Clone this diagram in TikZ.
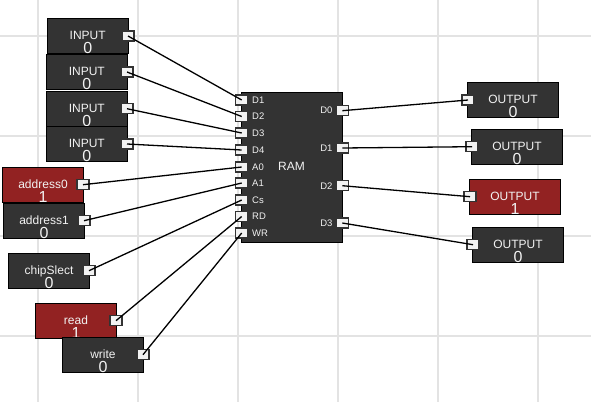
\documentclass[tikz,border=0pt]{standalone}
\usepackage{fontspec}
\setmainfont{Liberation Sans}
\definecolor{gatedark}{HTML}{333333}
\definecolor{gatered}{HTML}{922222}
\definecolor{gridgray}{HTML}{E3E3E3}
\definecolor{textlight}{HTML}{F2F2F2}
\newcommand{\gatetext}[2]{\rule{0pt}{21pt}#1\\{\fontsize{16}{14}\selectfont #2}}

\begin{document}
\begin{tikzpicture}[
                x=1pt, y=-1pt,
                gridline/.style={draw=gridgray, line width=1.8pt},
                gate/.style={rectangle, draw=black, line width=1pt, fill=gatedark, text=textlight, inner xsep=0pt, inner ysep=-4pt, minimum width=81pt, minimum height=35pt, align=center, font=\fontsize{12}{14}\selectfont},
                redgate/.style={gate, fill=gatered},
                outgate/.style={gate, minimum width=91pt},
                port/.style={rectangle, draw=gatedark, line width=1.2pt, fill=white!95!black, inner sep=0pt, minimum width=12pt, minimum height=10pt},
                pinlabel/.style={text=textlight, inner sep=0pt, font=\fontsize{9.5}{9.5}\selectfont},
                wire/.style={draw=black, line width=1.3pt}
            ]
                \useasboundingbox (0,0) rectangle (591,402);
                \foreach \gx in {38,138,238,338,438,538}
                    \draw[gridline] (\gx,0) -- (\gx,402);
                \foreach \gy in {36,136,236,336}
                    \draw[gridline] (0,\gy) -- (591,\gy);

                \node[gate] (input1) at (87.7,36) {\gatetext{INPUT}{0}};
                \node[gate] (input2) at (86.8,71.7) {\gatetext{INPUT}{0}};
                \node[gate] (input3) at (86.8,109) {\gatetext{INPUT}{0}};
                \node[gate] (input4) at (86.8,144) {\gatetext{INPUT}{0}};
                \node[redgate] (address0) at (43,185.2) {\gatetext{address0}{1}};
                \node[gate] (address1) at (44,220.7) {\gatetext{address1}{0}};
                \node[gate] (chipslect) at (49,271) {\gatetext{chipSlect}{0}};
                \node[redgate] (read) at (76,321) {\gatetext{read}{1}};
                \node[gate] (write) at (103,355) {\gatetext{write}{0}};

                \node[gate, minimum width=101pt, minimum height=150pt] (ram) at (291.5,167) {\raisebox{1pt}{RAM}};

                \node[outgate] (output0) at (513,100) {\gatetext{OUTPUT}{0}};
                \node[outgate] (output1) at (517,147) {\gatetext{OUTPUT}{0}};
                \node[outgate, fill=gatered] (output2) at (515,197) {\gatetext{OUTPUT}{1}};
                \node[outgate] (output3) at (518,245) {\gatetext{OUTPUT}{0}};

                % ports of the switches
                \node[port] (input1p) at (128,36) {};
                \node[port] (input2p) at (127,72) {};
                \node[port] (input3p) at (127,108.7) {};
                \node[port] (input4p) at (127,144) {};
                \node[port] (address0p) at (83,184.7) {};
                \node[port] (address1p) at (84,220.7) {};
                \node[port] (chipslectp) at (89,270.7) {};
                \node[port] (readp) at (116,320.7) {};
                \node[port] (writep) at (143,354.7) {};

                % ports of the chip
                \foreach \pin/\py in {D1/100,D2/116.5,D3/133,D4/150,A0/167,A1/183,Cs/200,RD/216.5,WR/233} {
                    \node[port] (ram\pin) at (241.7,\py) {};
                    \node[pinlabel, anchor=west] (lab\pin) at (252,\py) {\pin};
                }
                \foreach \pin/\py in {D0/110.7,D1/148,D2/185.7,D3/223} {
                    \node[port] (out\pin) at (342.3,\py) {};
                    \node[pinlabel, anchor=east] (olab\pin) at (332.7,\py) {\pin};
                }

                \node[port] (output0p) at (468,100) {};
                \node[port] (output1p) at (472,146.7) {};
                \node[port] (output2p) at (470,196.7) {};
                \node[port] (output3p) at (473,244.7) {};

                \draw[wire] (input1p.center) -- (ramD1.center);
                \draw[wire] (input2p.center) -- (ramD2.center);
                \draw[wire] (input3p.center) -- (ramD3.center);
                \draw[wire] (input4p.center) -- (ramD4.center);
                \draw[wire] (address0p.center) -- (ramA0.center);
                \draw[wire] (address1p.center) -- (ramA1.center);
                \draw[wire] (chipslectp.center) -- (ramCs.center);
                \draw[wire] (readp.center) -- (ramRD.center);
                \draw[wire] (writep.center) -- (ramWR.center);
                \draw[wire] (outD0.center) -- (output0p.center);
                \draw[wire] (outD1.center) -- (output1p.center);
                \draw[wire] (outD2.center) -- (output2p.center);
                \draw[wire] (outD3.center) -- (output3p.center);
            \end{tikzpicture}
\end{document}
